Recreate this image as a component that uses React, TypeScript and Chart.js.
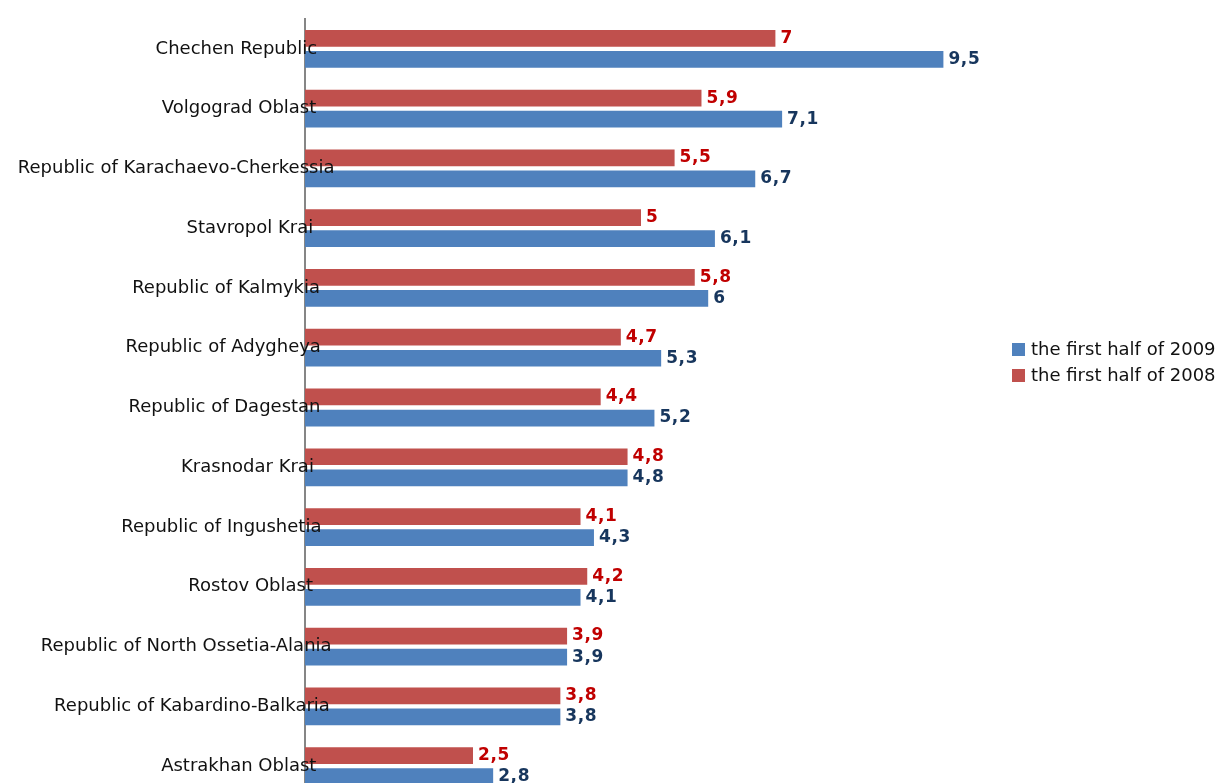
import React, { useEffect, useRef } from "react";
import { Chart, registerables } from "chart.js";

Chart.register(...registerables);

const categories = [
  "Chechen Republic",
  "Volgograd Oblast",
  "Republic of Karachaevo-Cherkessia",
  "Stavropol Krai",
  "Republic of Kalmykia",
  "Republic of Adygheya",
  "Republic of Dagestan",
  "Krasnodar Krai",
  "Republic of Ingushetia",
  "Rostov Oblast",
  "Republic of North Ossetia-Alania",
  "Republic of Kabardino-Balkaria",
  "Astrakhan Oblast",
];
const values2008 = [7, 5.9, 5.5, 5, 5.8, 4.7, 4.4, 4.8, 4.1, 4.2, 3.9, 3.8, 2.5];
const values2009 = [9.5, 7.1, 6.7, 6.1, 6, 5.3, 5.2, 4.8, 4.3, 4.1, 3.9, 3.8, 2.8];
const seriesNames = ["the first half of 2008", "the first half of 2009"];
const barColors = ["#C0504D", "#4F81BD"];
const valueLabelColors = ["#C00000", "#17365D"];

const fmt = (v: number) => String(v).replace(".", ",");

const drawPlugin = {
  id: "customText",
  afterDraw(chart: any) {
    const ctx = chart.ctx as CanvasRenderingContext2D;
    const yScale = chart.scales.y;
    ctx.save();
    // category labels
    ctx.font = "18px 'DejaVu Sans'";
    ctx.fillStyle = "#111111";
    ctx.textBaseline = "middle";
    ctx.textAlign = "left";
    categories.forEach((c, i) => {
      const w = ctx.measureText(c).width;
      const right = 299 + 0.112 * w;
      ctx.fillText(c, right - w, yScale.getPixelForValue(i));
    });
    // value labels
    ctx.font = "bold 17px 'DejaVu Sans'";
    (ctx as any).letterSpacing = "0.6px";
    chart.data.datasets.forEach((ds: any, di: number) => {
      const meta = chart.getDatasetMeta(di);
      ctx.fillStyle = valueLabelColors[di];
      meta.data.forEach((el: any, i: number) => {
        ctx.fillText(fmt(ds.data[i]), el.x + 5, el.y);
      });
    });
    // legend (2009 first)
    ctx.font = "18px 'DejaVu Sans'";
    (ctx as any).letterSpacing = "0px";
    const order = [1, 0];
    order.forEach((di, k) => {
      const cy = 350 + k * 26;
      ctx.fillStyle = chart.data.datasets[di].backgroundColor;
      ctx.fillRect(1012, cy - 7, 13, 13);
      ctx.fillStyle = "#111111";
      ctx.fillText(chart.data.datasets[di].label, 1031, cy);
    });
    ctx.restore();
  },
};

export default function App() {
  const ref = useRef<HTMLCanvasElement | null>(null);
  useEffect(() => {
    if (!ref.current) return;
    const chart = new Chart(ref.current, {
      type: "bar",
      data: {
        labels: categories,
        datasets: [
          { label: seriesNames[0], data: values2008, backgroundColor: barColors[0] },
          { label: seriesNames[1], data: values2009, backgroundColor: barColors[1] },
        ],
      },
      options: {
        indexAxis: "y",
        responsive: false,
        animation: false,
        categoryPercentage: 0.704,
        barPercentage: 0.795,
        layout: { padding: { left: 305, right: 243, top: 19, bottom: 4 } },
        plugins: { legend: { display: false }, tooltip: { enabled: false } },
        scales: {
          x: { display: false, min: 0, max: 10 },
          y: {
            display: true,
            grid: { display: false },
            ticks: { display: false },
            border: { display: true, color: "#868686", width: 2 },
            afterFit: (s: any) => {
              s.width = 0;
            },
          },
        },
      },
      plugins: [drawPlugin],
    });
    return () => chart.destroy();
  }, []);
  return (
    <div style={{ position: "fixed", left: 0, top: 0, width: 1220, height: 783, overflow: "hidden", background: "#fff" }}>
      <canvas ref={ref} width={1220} height={800} style={{ display: "block" }} />
    </div>
  );
}
